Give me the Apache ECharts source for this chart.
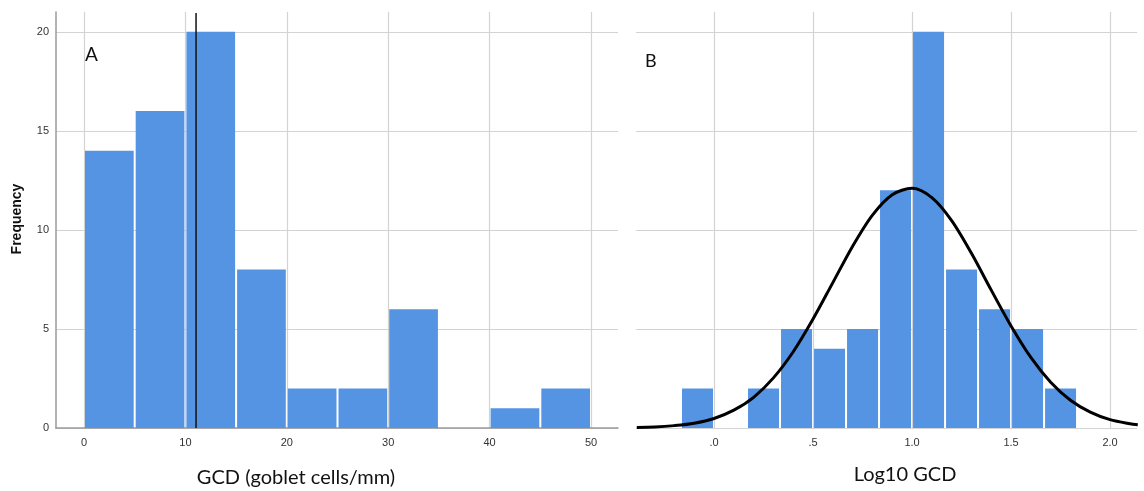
<!DOCTYPE html>
<html>
<head>
<meta charset="utf-8">
<script src="https://cdn.jsdelivr.net/npm/echarts@6/dist/echarts.min.js"></script>
<style>
html,body{margin:0;padding:0;background:#fff;}
#chart{width:1144px;height:491px;}
</style>
</head>
<body>
<div id="chart"></div>
<script>
// ---- Data ----
const gcdBinStarts = [0, 5, 10, 15, 20, 25, 30, 35, 40, 45];
const gcdBinEnds   = [5, 10, 15, 20, 25, 30, 35, 40, 45, 50];
const gcdCounts    = [14, 16, 20, 8, 2, 2, 6, 0, 1, 2];
const gcdMean      = 11.05;

const logBinStarts = [-0.1667, 0, 0.1667, 0.3333, 0.5, 0.6667, 0.8333, 1.0, 1.1667, 1.3333, 1.5, 1.6667];
const logBinEnds   = [0, 0.1667, 0.3333, 0.5, 0.6667, 0.8333, 1.0, 1.1667, 1.3333, 1.5, 1.6667, 1.8333];
const logCounts    = [2, 0, 2, 5, 4, 5, 12, 20, 8, 6, 5, 2];

// normal curve, points
const curveX = [-0.39, -0.3, -0.2, -0.1, 0, 0.1, 0.2, 0.3, 0.4, 0.5, 0.6, 0.7, 0.8, 0.9, 1.0, 1.1, 1.2, 1.3, 1.4, 1.5, 1.6, 1.7, 1.8, 1.9, 2.0, 2.1, 2.14];
const curveY = [0.03, 0.05, 0.12, 0.24, 0.48, 0.9, 1.55, 2.53, 3.85, 5.5, 7.34, 9.18, 10.75, 11.78, 12.1, 11.63, 10.47, 8.82, 6.96, 5.15, 3.56, 2.31, 1.4, 0.8, 0.42, 0.21, 0.16];

const freqTicks   = [0, 5, 10, 15, 20];
const gcdTicks    = [0, 10, 20, 30, 40, 50];
const logTicks    = [0, 0.5, 1.0, 1.5, 2.0];
const logTickLabels = ['.0', '.5', '1.0', '1.5', '2.0'];

const leftTitle  = 'GCD (goblet cells/mm)';
const rightTitle = 'Log10 GCD';
const yTitle     = 'Frequency';

// ---- Styles ----
const BAR = '#5593e3';
const GRID = '#d3d3d3';
const AXIS = '#9a9a9a';
const LABEL = { color: '#333', fontFamily: 'Liberation Sans, Arial, sans-serif', fontSize: 11 };

function histItem(params, api) {
  const c = api.value(2);
  if (!c) return null;
  const p0 = api.coord([api.value(0), 0]);
  const p1 = api.coord([api.value(1), c]);
  return {
    type: 'rect',
    shape: { x: p0[0] + 1, y: p1[1], width: p1[0] - p0[0] - 2, height: p0[1] - p1[1] },
    style: { fill: BAR }
  };
}

const gcdData = gcdCounts.map((c, i) => [gcdBinStarts[i], gcdBinEnds[i], c]);
const logData = logCounts.map((c, i) => [logBinStarts[i], logBinEnds[i], c]);
const curveData = curveX.map((x, i) => [x, curveY[i]]);

const chart = echarts.init(document.getElementById('chart'), null, { renderer: 'canvas' });
chart.setOption({
  animation: false,
  backgroundColor: '#fff',
  grid: [
    { left: 56, top: 12, width: 562, height: 416 },
    { left: 636, top: 12, width: 501, height: 416 }
  ],
  xAxis: [
    {
      gridIndex: 0, type: 'value', min: -2.76, max: 52.66,
      axisLine: { show: true, onZero: false, lineStyle: { color: AXIS, width: 1.5 } },
      axisTick: { show: false, customValues: gcdTicks },
      axisLabel: Object.assign({ customValues: gcdTicks, margin: 9 }, LABEL),
      splitLine: { show: true, lineStyle: { color: GRID, width: 1.2 } }
    },
    {
      gridIndex: 1, type: 'value', min: -0.394, max: 2.136,
      axisLine: { show: false, onZero: false },
      axisTick: { show: false, customValues: logTicks },
      axisLabel: Object.assign({ customValues: logTicks, margin: 9,
        formatter: v => { const i = logTicks.findIndex(t => Math.abs(t - v) < 1e-6); return i >= 0 ? logTickLabels[i] : ''; } }, LABEL),
      splitLine: { show: true, lineStyle: { color: GRID, width: 1.2 } }
    }
  ],
  yAxis: [
    {
      gridIndex: 0, type: 'value', min: 0, max: 21,
      axisLine: { show: true, onZero: false, lineStyle: { color: AXIS, width: 1.5 } },
      axisTick: { show: false, customValues: freqTicks },
      axisLabel: Object.assign({ customValues: freqTicks, margin: 7 }, LABEL),
      splitLine: { show: true, lineStyle: { color: GRID, width: 1.2 } }
    },
    {
      gridIndex: 1, type: 'value', min: 0, max: 21,
      axisLine: { show: false, onZero: false },
      axisTick: { show: false, customValues: freqTicks },
      axisLabel: { show: false, customValues: freqTicks },
      splitLine: { show: true, lineStyle: { color: GRID, width: 1.2 } }
    }
  ],
  series: [
    { type: 'custom', xAxisIndex: 0, yAxisIndex: 0, data: gcdData, renderItem: histItem, encode: { x: [0, 1], y: 2 } },
    { type: 'line', xAxisIndex: 0, yAxisIndex: 0, data: [[gcdMean, 0], [gcdMean, 20.95]], symbol: 'none',
      lineStyle: { color: '#111', width: 1.5 }, z: 5 },
    { type: 'custom', xAxisIndex: 1, yAxisIndex: 1, data: logData, renderItem: histItem, encode: { x: [0, 1], y: 2 } },
    { type: 'line', xAxisIndex: 1, yAxisIndex: 1, data: curveData, symbol: 'none', smooth: 0.3,
      lineStyle: { color: '#000', width: 3 }, z: 5 }
  ],
  graphic: [
    { type: 'text', left: 85, top: 45, style: { text: 'A', font: '19px Lato, "Open Sans", sans-serif', fill: '#111' } },
    { type: 'text', left: 645, top: 52, style: { text: 'B', font: '18px Lato, "Open Sans", sans-serif', fill: '#111' } },
    { type: 'text', x: 296, y: 478, style: { text: leftTitle, font: '20px Lato, "Open Sans", sans-serif', fill: '#111', align: 'center', verticalAlign: 'middle' } },
    { type: 'text', x: 905, y: 475, style: { text: rightTitle, font: '20px Lato, "Open Sans", sans-serif', fill: '#111', align: 'center', verticalAlign: 'middle' } },
    { type: 'text', x: 17, y: 219, rotation: Math.PI / 2, style: { text: yTitle, font: 'bold 14px "Liberation Sans", Arial, sans-serif', fill: '#111', align: 'center', verticalAlign: 'middle' } }
  ]
});
</script>
</body>
</html>
